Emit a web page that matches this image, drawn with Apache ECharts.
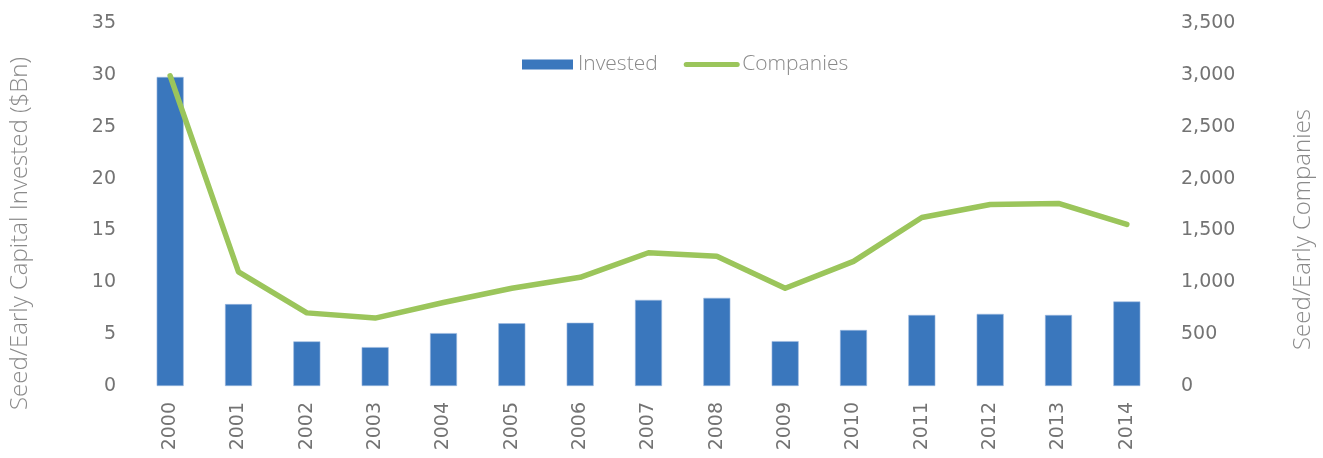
<!DOCTYPE html>
<html>
<head>
<meta charset="utf-8">
<script src="https://cdn.jsdelivr.net/npm/echarts@6/dist/echarts.min.js"></script>
<style>
html,body{margin:0;padding:0;background:#fff;}
#chart{width:1323px;height:458px;}
</style>
</head>
<body>
<div id="chart"></div>
<script>
const years = ['2000','2001','2002','2003','2004','2005','2006','2007','2008','2009','2010','2011','2012','2013','2014'];
const invested = [29.8, 7.9, 4.3, 3.75, 5.1, 6.05, 6.1, 8.3, 8.5, 4.33, 5.4, 6.85, 6.95, 6.85, 8.15];
const companies = [2990, 1100, 705, 655, 805, 942, 1048, 1285, 1250, 942, 1202, 1625, 1750, 1760, 1558];
const leftTicks = [0, 35, 5];
const rightTicks = [0, 3500, 500];

const gray = '#737373';
const lightGray = '#8a8a8a';
const font = 'Open Sans';
const tickFont = 'DejaVu Sans';
const chart = echarts.init(document.getElementById('chart'));
chart.setOption({
  animation: false,
  backgroundColor: '#fff',
  grid: {left: 135.6, right: 154.6, top: 23, bottom: 72, containLabel: false},
  legend: {
    left: 522, top: 54, padding: 0,
    itemWidth: 51, itemHeight: 10, itemGap: 26,
    textStyle: {fontFamily: font, fontSize: 21, fontWeight: 300, color: lightGray},
    data: [
      {name: 'Invested', icon: 'rect', itemStyle: {borderWidth: 0}},
      {name: 'Companies', itemStyle: {opacity: 0}, lineStyle: {width: 5, cap: 'round'}}
    ]
  },
  xAxis: {
    type: 'category', data: years,
    axisLine: {show: false}, axisTick: {show: false},
    axisLabel: {rotate: 90, margin: 16, fontFamily: tickFont, fontSize: 19, color: gray}
  },
  yAxis: [
    {
      type: 'value', min: leftTicks[0], max: leftTicks[1], interval: leftTicks[2],
      name: 'Seed/Early Capital Invested ($Bn)', nameLocation: 'middle', nameGap: 104, nameRotate: 90,
      nameTextStyle: {fontFamily: font, fontSize: 24, fontWeight: 300, color: lightGray, padding: [0, 58, 0, 0]},
      splitLine: {show: false}, axisLine: {show: false}, axisTick: {show: false},
      axisLabel: {margin: 20, fontFamily: tickFont, fontSize: 19, color: gray}
    },
    {
      type: 'value', min: rightTicks[0], max: rightTicks[1], interval: rightTicks[2], position: 'right',
      name: 'Seed/Early Companies', nameLocation: 'middle', nameGap: 130, nameRotate: 90,
      nameTextStyle: {fontFamily: font, fontSize: 24, fontWeight: 300, color: lightGray, padding: [0, 50, 0, 0]},
      splitLine: {show: false}, axisLine: {show: false}, axisTick: {show: false},
      axisLabel: {margin: 20, fontFamily: tickFont, fontSize: 19, color: gray,
        formatter: v => v.toLocaleString('en-US')}
    }
  ],
  series: [
    {
      name: 'Invested', type: 'bar', data: invested, yAxisIndex: 0, barWidth: 27,
      itemStyle: {color: '#3A77BD', borderColor: '#9DBBE0', borderWidth: 0.6}
    },
    {
      name: 'Companies', type: 'line', data: companies, yAxisIndex: 1,
      symbol: 'none', lineStyle: {color: '#9BC55B', width: 5.5, cap: 'round', join: 'round'},
      itemStyle: {color: '#9BC55B'}
    }
  ]
});
</script>
</body>
</html>
